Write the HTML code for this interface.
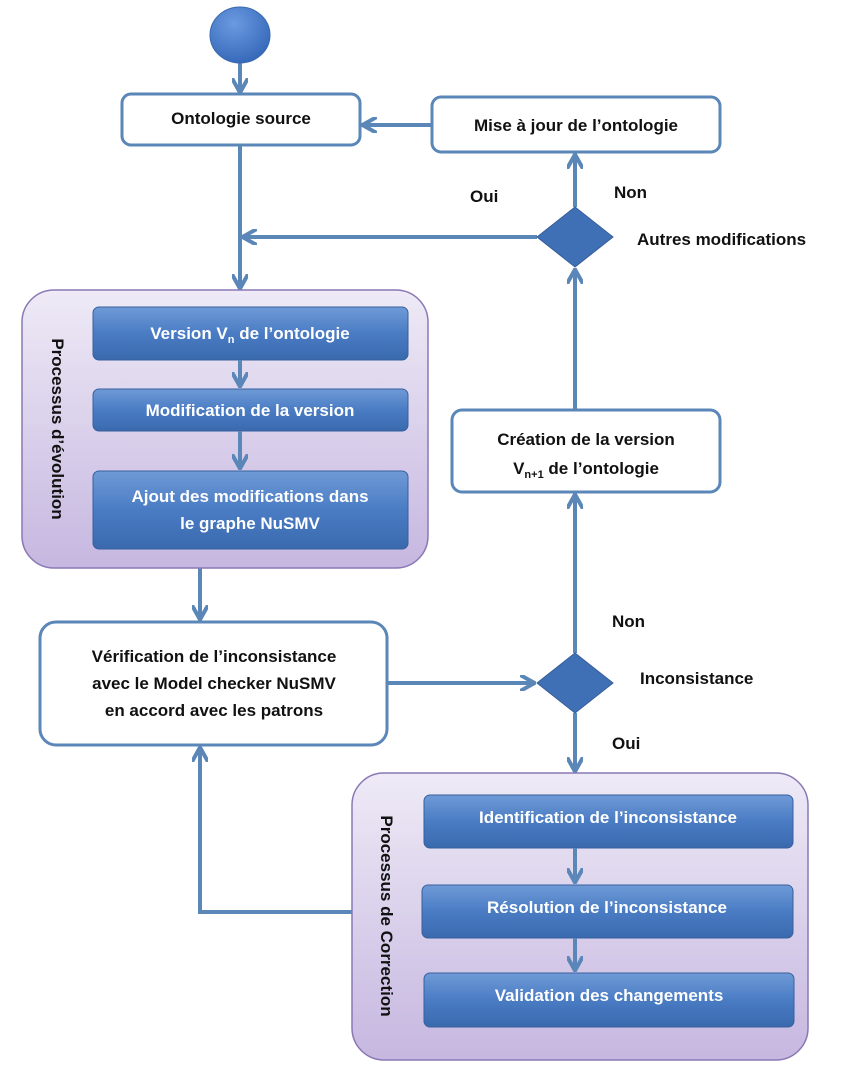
<!DOCTYPE html>
<html><head><meta charset="utf-8"><style>
body{margin:0;background:#fff;width:852px;height:1072px;overflow:hidden}
svg text{font-family:"Liberation Sans",sans-serif;font-weight:bold}
</style></head><body>
<svg width="852" height="1072" viewBox="0 0 852 1072" xmlns="http://www.w3.org/2000/svg">
<defs>
<linearGradient id="bl" x1="0" y1="0" x2="0" y2="1"><stop offset="0" stop-color="#6f9ad6"/><stop offset="0.5" stop-color="#4a7cc4"/><stop offset="1" stop-color="#3a69ad"/></linearGradient>
<linearGradient id="pu" x1="0" y1="0" x2="0" y2="1"><stop offset="0" stop-color="#eeeaf6"/><stop offset="1" stop-color="#c6b7e0"/></linearGradient>
<radialGradient id="ci" cx="0.4" cy="0.3" r="0.8"><stop offset="0" stop-color="#6b9ae0"/><stop offset="1" stop-color="#2f63b5"/></radialGradient>
<marker id="a" viewBox="0 0 10 10" refX="8" refY="5" markerWidth="4" markerHeight="4" orient="auto"><path d="M0,0 L9,5 L0,10" fill="none" stroke="#5b86b8" stroke-width="2.5"/></marker>
</defs>
<g stroke="#5b86b8" stroke-width="4" fill="none">
<line x1="240" y1="63" x2="240" y2="91" marker-end="url(#a)"/>
<line x1="432" y1="125" x2="364" y2="125" marker-end="url(#a)"/>
<line x1="575" y1="207" x2="575" y2="156" marker-end="url(#a)"/>
<line x1="537" y1="237" x2="244" y2="237" marker-end="url(#a)"/>
<line x1="240" y1="145" x2="240" y2="287" marker-end="url(#a)"/>
<line x1="200" y1="568" x2="200" y2="618" marker-end="url(#a)"/>
<line x1="387" y1="683" x2="533" y2="683" marker-end="url(#a)"/>
<line x1="575" y1="653" x2="575" y2="496" marker-end="url(#a)"/>
<line x1="575" y1="410" x2="575" y2="271" marker-end="url(#a)"/>
<line x1="575" y1="713" x2="575" y2="770" marker-end="url(#a)"/>
<polyline points="352,912 200,912 200,749" marker-end="url(#a)"/>
</g>
<ellipse cx="240" cy="35" rx="30" ry="28" fill="url(#ci)" stroke="#3a69ad"/>
<g fill="#fff" stroke="#5b86b8" stroke-width="3">
<rect x="122" y="94" width="238" height="51" rx="9"/>
<rect x="432" y="97" width="288" height="55" rx="9"/>
<rect x="452" y="410" width="268" height="82" rx="10"/>
<rect x="40" y="622" width="347" height="123" rx="16"/>
</g>
<g fill="#3f6fb5" stroke="#365f9a">
<path d="M575,207 L613,237 L575,267 L537,237Z"/>
<path d="M575,653 L613,683 L575,713 L537,683Z"/>
</g>
<rect x="22" y="290" width="406" height="278" rx="32" fill="url(#pu)" stroke="#8a78b5" stroke-width="1.5"/>
<rect x="352" y="773" width="456" height="287" rx="32" fill="url(#pu)" stroke="#8a78b5" stroke-width="1.5"/>
<g fill="url(#bl)" stroke="#36609e">
<rect x="93" y="307" width="315" height="53" rx="6"/>
<rect x="93" y="389" width="315" height="42" rx="6"/>
<rect x="93" y="471" width="315" height="78" rx="6"/>
<rect x="424" y="795" width="369" height="53" rx="6"/>
<rect x="422" y="885" width="371" height="53" rx="6"/>
<rect x="424" y="973" width="370" height="54" rx="6"/>
</g>
<g stroke="#5b86b8" stroke-width="4" fill="none">
<line x1="240" y1="360" x2="240" y2="385" marker-end="url(#a)"/>
<line x1="240" y1="431" x2="240" y2="467" marker-end="url(#a)"/>
<line x1="575" y1="848" x2="575" y2="881" marker-end="url(#a)"/>
<line x1="575" y1="938" x2="575" y2="969" marker-end="url(#a)"/>
</g>
<g font-size="17" fill="#111" text-anchor="middle">
<text x="241" y="124">Ontologie source</text>
<text x="576" y="131">Mise à jour de l’ontologie</text>
<text x="586" y="445">Création de la version</text>
<text x="586" y="474">V<tspan font-size="11" dy="4">n+1</tspan><tspan dy="-4"> de l’ontologie</tspan></text>
<text x="214" y="662">Vérification de l’inconsistance</text>
<text x="214" y="689">avec le Model checker NuSMV</text>
<text x="214" y="716">en accord avec les patrons</text>
</g>
<g font-size="17" fill="#111">
<text x="470" y="202">Oui</text>
<text x="614" y="198">Non</text>
<text x="637" y="245">Autres modifications</text>
<text x="612" y="627">Non</text>
<text x="640" y="684">Inconsistance</text>
<text x="612" y="749">Oui</text>
</g>
<g font-size="17" fill="#fff" text-anchor="middle">
<text x="250" y="339">Version V<tspan font-size="11" dy="4">n</tspan><tspan dy="-4"> de l’ontologie</tspan></text>
<text x="250" y="416">Modification de la version</text>
<text x="250" y="502">Ajout des modifications dans</text>
<text x="250" y="529">le graphe NuSMV</text>
<text x="608" y="823">Identification de l’inconsistance</text>
<text x="607" y="913">Résolution de l’inconsistance</text>
<text x="609" y="1001">Validation des changements</text>
</g>
<g font-size="17" fill="#111" text-anchor="middle">
<text transform="translate(52,429) rotate(90)">Processus  d’évolution</text>
<text transform="translate(381,916) rotate(90)">Processus  de Correction</text>
</g>
</svg>
</body></html>
